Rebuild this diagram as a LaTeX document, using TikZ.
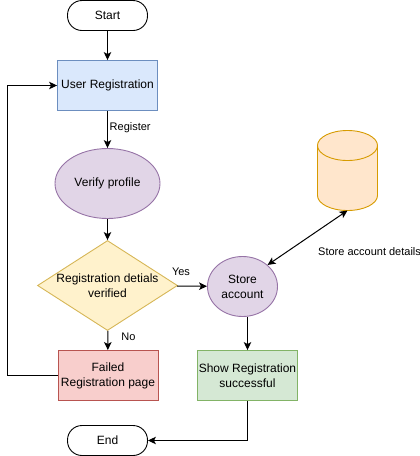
\documentclass[tikz,border=0pt]{standalone}
\usepackage{fontspec}
\setmainfont{Liberation Sans}
\usetikzlibrary{shapes.geometric, arrows.meta}
\definecolor{blueF}{HTML}{DAE8FC}
\definecolor{blueD}{HTML}{6C8EBF}
\definecolor{purpleF}{HTML}{E1D5E7}
\definecolor{purpleD}{HTML}{9673A6}
\definecolor{yellowF}{HTML}{FFF2CC}
\definecolor{yellowD}{HTML}{D6B656}
\definecolor{redF}{HTML}{F8CECC}
\definecolor{redD}{HTML}{B85450}
\definecolor{greenF}{HTML}{D5E8D4}
\definecolor{greenD}{HTML}{82B366}
\definecolor{orangeF}{HTML}{FFE6CC}
\definecolor{orangeD}{HTML}{D79B00}
\tikzstyle{base} = [line width=0.9pt, inner sep=1pt, align=center, font=\fontsize{12}{15}\selectfont]
\tikzstyle{term} = [base, rectangle, rounded corners=14.5pt, minimum width=80pt, minimum height=30pt, draw=black, fill=white]
\tikzstyle{proc} = [base, rectangle, minimum width=100pt, minimum height=50pt]
\tikzstyle{oval} = [base, ellipse, fill=purpleF, draw=purpleD]
\tikzstyle{lbl} = [inner sep=0pt, font=\fontsize{11}{13}\selectfont]
\tikzstyle{arrow} = [line width=1pt,->,>={Stealth[length=8pt, width=7.5pt, inset=2pt]}]

\begin{document}
\begin{tikzpicture}[x=1pt, y=-1pt]
    \useasboundingbox (0,0) rectangle (420,456);
    \node (start) [term] at (107.5,15.5) {Start};
    \node (user)  [proc, fill=blueF, draw=blueD] at (107.5,85.5) {User Registration};
    \node (verify) [oval, minimum width=105pt, minimum height=70pt] at (107.5,183.5) {Verify profile};
    \node (check) [base, diamond, aspect=1.556, minimum width=140pt, minimum height=90pt, inner sep=0pt, fill=yellowF, draw=yellowD] at (107.5,285.5) {Registration detials\\verified};
    \node (failed) [proc, fill=redF, draw=redD] at (108,375.5) {Failed\\Registration page};
    \node (end)   [term] at (107.5,440.5) {End};
    \node (store) [oval, minimum width=70pt, minimum height=60pt] at (242.5,286.5) {Store\\account};
    \node (show)  [proc, fill=greenF, draw=greenD] at (247.5,375.5) {Show Registration\\successful};
    \node (db) [rectangle, minimum width=60pt, minimum height=80pt, inner sep=0pt, outer sep=0pt] at (347.5,170.5) {};

    % the cylinder round the db node
    \draw [line width=0.9pt, fill=orangeF, draw=orangeD] ([yshift=-15pt]db.north west)
        arc [start angle=180, end angle=0, x radius=30pt, y radius=15pt]
        -- ([yshift=15pt]db.south east)
        arc [start angle=0, end angle=-180, x radius=30pt, y radius=15pt] -- cycle;
    \draw [line width=0.9pt, draw=orangeD] ([yshift=-15pt]db.north west)
        arc [start angle=180, end angle=360, x radius=30pt, y radius=15pt];

    \node (lregister) [lbl, anchor=west] at (109.5,128) {Register};
    \node (lyes) [lbl] at (181,272) {Yes};
    \node (lno)  [lbl] at (128.5,337) {No};
    \node (lstore) [lbl, anchor=west] at (318,252) {Store account details};

    \coordinate (upleft) at (7.5,85.5);
    \coordinate (lowleft) at (7.5,375.5);

    \draw [arrow] (start) -- (user);
    \draw [arrow] (user) -- (verify);
    \draw [arrow] (verify) -- (check);
    \draw [arrow] (check) -- (failed);
    \draw [arrow] (check) -- (store);
    \draw [arrow] (store.south -| show) -- (show);
    \draw [arrow] (failed) -- (lowleft) -- (upleft) -- (user);
    \draw [arrow] (show) |- (end);
    \draw [arrow, <->] (store.north east) -- (db.south);
\end{tikzpicture}
\end{document}
